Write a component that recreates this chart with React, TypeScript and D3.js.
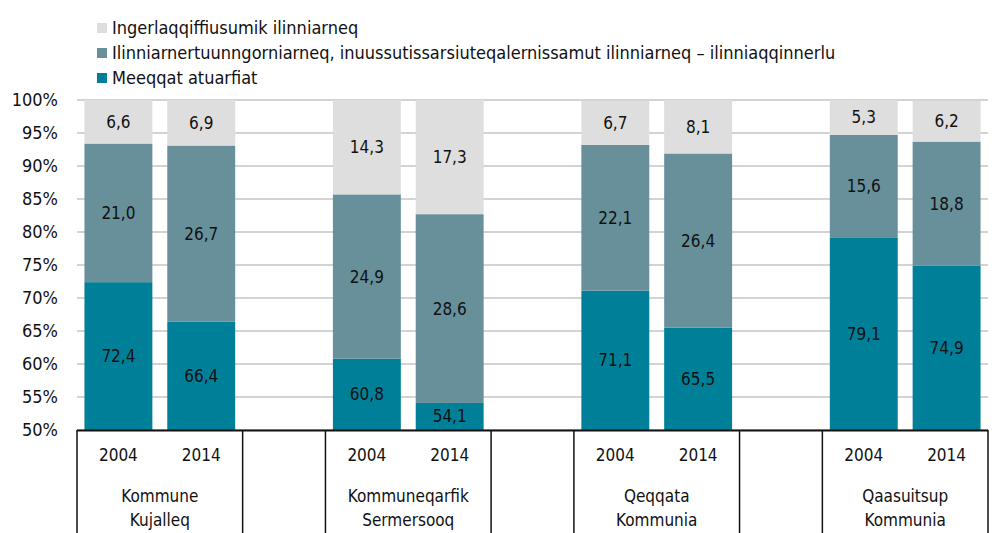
import React from "react";
import * as d3 from "d3";

const municipalities = [
  ["Kommune", "Kujalleq"],
  ["Kommuneqarfik", "Sermersooq"],
  ["Qeqqata", "Kommunia"],
  ["Qaasuitsup", "Kommunia"],
];
const years = ["2004", "2014"];
const seriesNames = [
  "Meeqqat atuarfiat",
  "Ilinniarnertuunngorniarneq, inuussutissarsiuteqalernissamut ilinniarneq – ilinniaqqinnerlu",
  "Ingerlaqqiffiusumik ilinniarneq",
];
const seriesColors = ["#007F99", "#67909A", "#DEDEDE"];
// values per municipality, per year: [Meeqqat, Ilinniarnertuu..., Ingerlaqqiffiusumik]
const school = [72.4, 66.4, 60.8, 54.1, 71.1, 65.5, 79.1, 74.9];
const upper = [21.0, 26.7, 24.9, 28.6, 22.1, 26.4, 15.6, 18.8];
const further = [6.6, 6.9, 14.3, 17.3, 6.7, 8.1, 5.3, 6.2];
const yTicks = [50, 55, 60, 65, 70, 75, 80, 85, 90, 95, 100];

const W = 995;
const H = 533;
const FONT = "'Liberation Sans Narrow', 'DejaVu Sans Condensed', 'Roboto Condensed', sans-serif";

export default function App() {
  const slots: string[] = [];
  municipalities.forEach((_, i) => {
    years.forEach((y) => slots.push(`${i}-${y}`));
    if (i < municipalities.length - 1) slots.push(`gap${i}`);
  });
  const x = d3.scaleBand<string>().domain(slots).range([77, 988]).padding(0);
  const step = x.step();
  const barW = step * 0.82;
  const y = d3.scaleLinear().domain([50, 100]).range([430, 100]);

  const bars: { key: string; x: number; segs: { y0: number; y1: number; v: number; c: string }[] }[] = [];
  municipalities.forEach((_, i) => {
    years.forEach((yr, j) => {
      const idx = i * 2 + j;
      const vals = [school[idx], upper[idx], further[idx]];
      let acc = 0;
      const segs = vals.map((v, k) => {
        const s = { y0: acc, y1: acc + v, v, c: seriesColors[k] };
        acc += v;
        return s;
      });
      bars.push({ key: `${i}-${yr}`, x: (x(`${i}-${yr}`) as number) + (step - barW) / 2, segs });
    });
  });

  const dividerIdx = [0, 2, 3, 5, 6, 8, 9, 11];
  const boundary = (k: number) => 77 + k * step;

  return (
    <svg width={W} height={H} style={{ position: "absolute", left: 0, top: 0, background: "#fff" }} fontFamily={FONT}>
      {/* legend */}
      {[2, 1, 0].map((s, r) => (
        <g key={s} transform={`translate(97, ${28 + r * 25})`}>
          <rect x={0} y={-5} width={10} height={10} fill={seriesColors[s]} />
          <text x={15} y={0} dy="0.35em" fontSize={18} fill="#111">
            {seriesNames[s]}
          </text>
        </g>
      ))}
      {/* gridlines */}
      {yTicks.map((t) => (
        <g key={t}>
          <line x1={77} x2={988} y1={y(t)} y2={y(t)} stroke="#c4c4c4" strokeWidth={1.5} />
          <text x={58} y={y(t)} dy="0.35em" textAnchor="end" fontSize={18} fill="#111">
            {t}%
          </text>
        </g>
      ))}
      {/* bars */}
      {bars.map((b) =>
        b.segs.map((s, k) => {
          const lo = Math.max(50, s.y0);
          const hi = Math.min(100, s.y1);
          if (hi <= lo) return null;
          return (
            <g key={`${b.key}-${k}`}>
              <rect x={b.x} width={barW} y={y(hi)} height={y(lo) - y(hi)} fill={s.c} />
              <text
                x={b.x + barW / 2}
                y={y((lo + hi) / 2)}
                dy="0.35em"
                textAnchor="middle"
                fontSize={17}
                fill="#111"
              >
                {s.v.toFixed(1).replace(".", ",")}
              </text>
            </g>
          );
        })
      )}
      {/* bottom axis */}
      <line x1={77} x2={988} y1={430.5} y2={430.5} stroke="#111" strokeWidth={2} />
      {dividerIdx.map((k) => (
        <line key={k} x1={boundary(k)} x2={boundary(k)} y1={430} y2={H} stroke="#111" strokeWidth={1.5} />
      ))}
      {municipalities.map((m, i) => {
        const x0 = x(`${i}-2004`) as number;
        const x1 = x(`${i}-2014`) as number;
        return (
          <g key={i}>
            {years.map((yr, j) => (
              <text
                key={yr}
                x={(j === 0 ? x0 : x1) + step / 2}
                y={455}
                dy="0.35em"
                textAnchor="middle"
                fontSize={17}
                fill="#111"
              >
                {yr}
              </text>
            ))}
            {m.map((line, l) => (
              <text key={l} x={x1} y={496 + l * 24} dy="0.35em" textAnchor="middle" fontSize={17} fill="#111">
                {line}
              </text>
            ))}
          </g>
        );
      })}
    </svg>
  );
}
